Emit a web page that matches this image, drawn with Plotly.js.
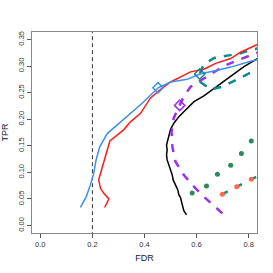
<!DOCTYPE html>
<html><head><meta charset="utf-8">
<script src="https://cdn.plot.ly/plotly-3.0.1.min.js"></script>
<style>html,body{margin:0;padding:0;background:#fff}#chart{width:273px;height:273px}</style>
</head><body><div id="chart"></div>
<script>
// Blue curve
const blueX = [0.154,0.176,0.192,0.205,0.214,0.228,0.257,0.308,0.391,0.452,0.500,0.564,0.612,0.680,0.731,0.808,0.840];
const blueY = [0.034,0.054,0.076,0.098,0.123,0.148,0.173,0.195,0.230,0.259,0.270,0.275,0.285,0.292,0.298,0.309,0.313];
// Red curve
const redX = [0.247,0.263,0.243,0.231,0.224,0.243,0.267,0.320,0.346,0.385,0.423,0.462,0.500,0.577,0.628,0.673,0.731,0.769,0.840];
const redY = [0.034,0.050,0.061,0.070,0.086,0.117,0.159,0.180,0.195,0.211,0.240,0.256,0.270,0.289,0.294,0.305,0.314,0.326,0.342];
// Black curve
const blackX = [0.5615,0.551,0.547,0.541,0.538,0.532,0.528,0.519,0.510,0.5065,0.500,0.4935,0.487,0.4846,0.487,0.4846,0.4896,0.4935,0.500,0.5127,0.532,0.5577,0.5835,0.590,0.628,0.660,0.731,0.782,0.840];
const blackY = [0.020,0.028,0.0355,0.045,0.0532,0.0576,0.067,0.0764,0.0858,0.0952,0.1046,0.114,0.1234,0.1328,0.142,0.1516,0.161,0.1704,0.181,0.1924,0.2048,0.2174,0.230,0.233,0.2437,0.255,0.280,0.299,0.316];
// Purple dashed curve
const purpleX = [0.699,0.635,0.596,0.551,0.519,0.507,0.504,0.512,0.535,0.551,0.577,0.641,0.705,0.769,0.820,0.850];
const purpleY = [0.023,0.051,0.070,0.095,0.120,0.148,0.176,0.202,0.226,0.243,0.261,0.281,0.300,0.313,0.323,0.328];
// Teal dashed curve (loop)
const tealX = [0.854,0.814,0.769,0.718,0.667,0.627,0.612,0.615,0.654,0.699,0.757,0.808,0.850];
const tealY = [0.335,0.331,0.324,0.320,0.315,0.303,0.285,0.270,0.256,0.261,0.275,0.288,0.298];
// Teal dashed lower line with orange points
const tealLowX = [0.699,0.754,0.810,0.866];
const tealLowY = [0.059,0.073,0.087,0.101];
const orangeX = [0.699,0.754,0.810];
const orangeY = [0.059,0.073,0.087];
// Green points
const greenX = [0.583,0.638,0.680,0.731,0.772,0.810];
const greenY = [0.061,0.0745,0.0966,0.1135,0.1355,0.159];
// Markers
const blueMarkX = [0.452], blueMarkY = [0.259];
const purpleMarkX = [0.535], purpleMarkY = [0.226];
const tealMarkX = [0.612], tealMarkY = [0.285];
// Vertical reference line
const vlineX = [0.2,0.2], vlineY = [-0.02,0.37];
const xTicks = [0,0.2,0.4,0.6,0.8], xTickText = ['0.0','0.2','0.4','0.6','0.8'];
const yTicks = [0,0.05,0.1,0.15,0.2,0.25,0.3,0.35];
const yTickText = ['0.00','0.05','0.10','0.15','0.20','0.25','0.30','0.35'];

const BLUE='#3b8ff0', RED='#ff1a1a', PURPLE='#9b30f0', TEAL='#0a8c8c', GREEN='#2a8a5c', ORANGE='#ff6a4d';
const traces = [
 {x:vlineX,y:vlineY,mode:'lines',line:{color:'#333',width:1,dash:'4px,3px'}},
 {x:blackX,y:blackY,mode:'lines',line:{color:'#000',width:1.5}},
 {x:purpleX,y:purpleY,mode:'lines',line:{color:PURPLE,width:2.5,dash:'8px,8px'}},
 {x:tealX,y:tealY,mode:'lines',line:{color:TEAL,width:2.5,dash:'8px,8px'}},
 {x:redX,y:redY,mode:'lines',line:{color:RED,width:1.5}},
 {x:blueX,y:blueY,mode:'lines',line:{color:BLUE,width:1.5}},
 {x:tealLowX,y:tealLowY,mode:'lines',line:{color:TEAL,width:2.5,dash:'6px,10px'}},
 {x:orangeX,y:orangeY,mode:'markers',marker:{color:ORANGE,size:5}},
 {x:greenX,y:greenY,mode:'markers',marker:{color:GREEN,size:5}},
 {x:blueMarkX,y:blueMarkY,mode:'markers',marker:{symbol:'diamond-open',color:BLUE,size:8,line:{width:1.5,color:BLUE}}},
 {x:purpleMarkX,y:purpleMarkY,mode:'markers',marker:{symbol:'diamond-open',color:PURPLE,size:8,line:{width:1.5,color:PURPLE}}},
 {x:tealMarkX,y:tealMarkY,mode:'markers',marker:{symbol:'diamond-open',color:TEAL,size:8,line:{width:1.5,color:TEAL}}}
];
const axFont = {family:'Liberation Sans, Arial, sans-serif',size:7.5,color:'#333'};
const layout = {
 width:273,height:273,showlegend:false,
 margin:{l:32,r:16,t:32,b:40,pad:0},
 paper_bgcolor:'#fff',plot_bgcolor:'#fff',
 xaxis:{range:[-0.032,0.832],tickvals:xTicks,ticktext:xTickText,ticks:'outside',ticklen:4,tickcolor:'#555',
   showline:true,mirror:true,linecolor:'#888',linewidth:1,showgrid:false,zeroline:false,tickfont:axFont,
   title:{text:'FDR',font:{family:'Liberation Sans, Arial, sans-serif',size:9,color:'#222'},standoff:6}},
 yaxis:{range:[-0.014,0.364],tickvals:yTicks,ticktext:yTickText,ticks:'outside',ticklen:4,tickcolor:'#555',tickangle:-90,
   showline:true,mirror:true,linecolor:'#888',linewidth:1,showgrid:false,zeroline:false,tickfont:axFont,
   title:{text:'TPR',font:{family:'Liberation Sans, Arial, sans-serif',size:9,color:'#222'},standoff:6}}
};
Plotly.newPlot('chart',traces,layout,{staticPlot:true,displayModeBar:false});
</script></body></html>
